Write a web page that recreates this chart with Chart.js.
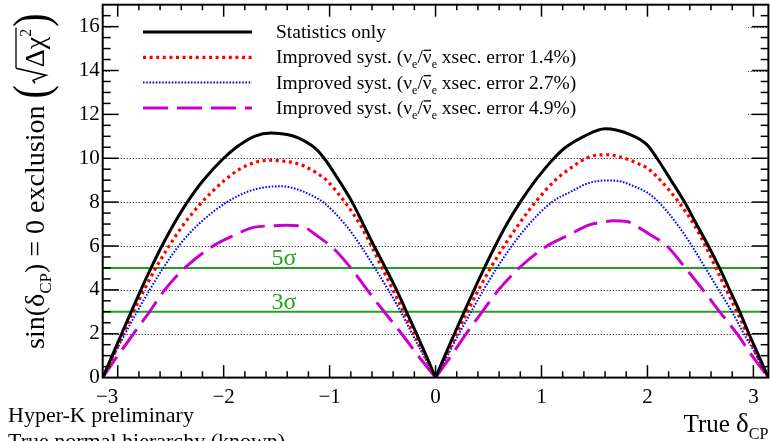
<!DOCTYPE html>
<html>
<head>
<meta charset="utf-8">
<script src="https://cdn.jsdelivr.net/npm/chart.js@4.4.1/dist/chart.umd.min.js"></script>
<style>
  html, body { margin: 0; padding: 0; background: #fff; overflow: hidden; }
  canvas { display: block; }
</style>
</head>
<body>
<canvas id="c" width="770" height="441" style="width:770px;height:441px"></canvas>
<script>
const SERIF = '"Liberation Serif", "DejaVu Serif", serif';

// True delta_CP (rad) and sqrt(delta chi^2) for excluding sin(delta_CP) = 0
const statX = [-3.1416, -3.052, -2.963, -2.873, -2.781, -2.685, -2.583, -2.47, -2.343, -2.192, -2.0, -1.88, -1.71, -1.55, -1.40, -1.297, -1.14, -1.052, -0.913, -0.787, -0.683, -0.58, -0.472, -0.368, -0.274, -0.18, -0.088, 0,
               0.088, 0.178, 0.27, 0.364, 0.461, 0.563, 0.673, 0.799, 0.945, 1.118, 1.228, 1.40, 1.60, 1.838, 1.995, 2.09, 2.222, 2.35, 2.462, 2.575, 2.68, 2.776, 2.871, 2.958, 3.05, 3.1416];
const statY = [0, 1, 2, 3, 4, 5, 6, 7, 8, 9, 10, 10.5, 11, 11.15, 11.08, 10.93, 10.47, 10, 9, 8, 7, 6, 5, 4, 3, 2, 1, 0,
               1, 2, 3, 4, 5, 6, 7, 8, 9, 10, 10.5, 11, 11.34, 11.08, 10.62, 10, 9, 8, 7, 6, 5, 4, 3, 2, 1, 0];

const syst14X = [-3.1416, -3.04, -2.948, -2.852, -2.75, -2.64, -2.515, -2.375, -2.205, -1.99, -1.85, -1.69, -1.55, -1.423, -1.329, -1.234, -1.124, -1.03, -0.856, -0.715, -0.605, -0.505, -0.403, -0.303, -0.203, -0.103, 0,
                 0.102, 0.2, 0.3, 0.405, 0.52, 0.647, 0.787, 0.943, 1.13, 1.26, 1.45, 1.62, 1.743, 1.838, 1.932, 1.995, 2.121, 2.295, 2.436, 2.548, 2.645, 2.744, 2.845, 2.94, 3.034, 3.1416];
const syst14Y = [0, 1, 2, 3, 4, 5, 6, 7, 8, 9, 9.5, 9.83, 9.91, 9.86, 9.79, 9.63, 9.33, 9, 8, 7, 6, 5, 4, 3, 2, 1, 0,
                 1, 2, 3, 4, 5, 6, 7, 8, 9, 9.5, 10.06, 10.16, 10.06, 9.91, 9.71, 9.56, 9, 8, 7, 6, 5, 4, 3, 2, 1, 0];

const syst27X = [-3.1416, -3.038, -2.93, -2.818, -2.698, -2.57, -2.425, -2.235, -1.97, -1.76, -1.60, -1.45, -1.297, -1.14, -1.061, -0.856, -0.705, -0.573, -0.447, -0.328, -0.222, -0.112, 0,
                 0.112, 0.222, 0.336, 0.453, 0.579, 0.72, 0.884, 1.098, 1.287, 1.445, 1.61, 1.76, 1.838, 1.995, 2.106, 2.279, 2.42, 2.546, 2.672, 2.798, 2.91, 3.03, 3.1416];
const syst27Y = [0, 1, 2, 3, 4, 5, 6, 7, 8, 8.5, 8.68, 8.72, 8.57, 8.23, 8, 7, 6, 5, 4, 3, 2, 1, 0,
                 1, 2, 3, 4, 5, 6, 7, 8, 8.5, 8.87, 8.99, 8.93, 8.79, 8.44, 8, 7, 6, 5, 4, 3, 2, 1, 0];

const syst49X = [-3.1416, -3.00, -2.85, -2.70, -2.556, -2.367, -2.10, -1.895, -1.72, -1.52, -1.40, -1.30, -1.22, -1.156, -0.951, -0.80, -0.645, -0.485, -0.32, -0.165, 0,
                 0.148, 0.29, 0.44, 0.595, 0.79, 1.051, 1.256, 1.445, 1.55, 1.68, 1.806, 1.90, 2.027, 2.184, 2.357, 2.524, 2.682, 2.845, 2.987, 3.1416];
const syst49Y = [0, 1, 2, 3, 4, 5, 6, 6.5, 6.85, 6.92, 6.95, 6.92, 6.82, 6.6, 5.83, 5, 4, 3, 2, 1, 0,
                 1, 2, 3, 4, 5, 6, 6.5, 6.95, 7.07, 7.15, 7.12, 6.89, 6.51, 6, 5, 4, 3, 2, 1, 0];

// Significance reference levels
const sigmaLevels = [5, 3];
const sigmaLabels = ['5σ', '3σ'];

// Legend wording
const statLabel = 'Statistics only';
const xsecErrors = ['1.4%', '2.7%', '4.9%'];

const GREEN = '#22a022';

// Both arcs meet at delta_CP = 0; the curve restarts there so the cusp stays sharp.
function toPoints(xs, ys) {
  const pts = [];
  xs.forEach((x, i) => {
    pts.push({ x: x, y: ys[i] });
    if (x === 0) { pts.push({ x: 0, y: null }); pts.push({ x: 0, y: ys[i] }); }
  });
  return pts;
}

const curveStyles = [
  { color: '#000000', width: 3, dash: [] },
  { color: '#ff0000', width: 3.2, dash: [3, 3.6] },
  { color: '#0000ff', width: 2, dash: [1.6, 1.6] },
  { color: '#cc00cc', width: 3, dash: [25, 9] }
];

const curveData = [[statX, statY], [syst14X, syst14Y], [syst27X, syst27Y], [syst49X, syst49Y]];

const datasets = curveData.map((d, i) => ({
  label: i === 0 ? statLabel : 'Improved syst. ' + xsecErrors[i - 1],
  data: toPoints(d[0], d[1]),
  borderColor: curveStyles[i].color,
  borderWidth: curveStyles[i].width,
  borderDash: curveStyles[i].dash,
  borderCapStyle: 'butt',
  cubicInterpolationMode: 'monotone',
  pointRadius: 0,
  spanGaps: false,
  fill: false
}));

sigmaLevels.forEach((lv, i) => {
  datasets.push({
    label: sigmaLabels[i],
    data: [{ x: -Math.PI, y: lv }, { x: Math.PI, y: lv }],
    borderColor: GREEN,
    borderWidth: 2,
    pointRadius: 0,
    fill: false
  });
});

// Draw a sequence of text runs (with sub/superscripts) on one baseline
function runWidth(ctx, runs) {
  let w = 0;
  runs.forEach(r => { ctx.font = r.size + 'px ' + SERIF; w += ctx.measureText(r.t).width + (r.kern || 0); });
  return w;
}
function drawRuns(ctx, x, y, runs) {
  runs.forEach(r => {
    ctx.font = r.size + 'px ' + SERIF;
    const w = ctx.measureText(r.t).width;
    const by = y + (r.dy || 0);
    ctx.fillText(r.t, x, by);
    if (r.bar) {
      ctx.fillRect(x + w * 0.08, by - r.size * r.bar, w * 0.84, Math.max(1.2, r.size * 0.07));
    }
    x += w + (r.kern || 0);
  });
  return x;
}

function legendRuns(err, size) {
  const s = size, sub = Math.round(size * 0.62), d = Math.round(size * 0.28);
  return [
    { t: 'Improved syst. (ν', size: s },
    { t: 'e', size: sub, dy: d },
    { t: '/', size: s },
    { t: 'ν', size: s, bar: 0.7 },
    { t: 'e', size: sub, dy: d },
    { t: ' xsec. error ' + err + ')', size: s }
  ];
}

function hline(ctx, x1, y1, x2, y2) {
  ctx.beginPath(); ctx.moveTo(x1, y1); ctx.lineTo(x2, y2); ctx.stroke();
}

const decor = {
  id: 'decor',
  beforeDatasetsDraw(chart) {
    const { ctx, chartArea: a, scales: { y } } = chart;
    ctx.save();
    // dotted horizontal grid at the labelled values
    ctx.strokeStyle = '#000';
    ctx.lineWidth = 1;
    ctx.setLineDash([1, 2]);
    y.ticks.forEach(t => {
      if (t.value <= y.min) return;
      const py = Math.round(y.getPixelForValue(t.value)) + 0.5;
      hline(ctx, a.left, py, a.right, py);
    });
    ctx.setLineDash([]);

    // legend panel
    const lx0 = 110, lx1 = 748, ly0 = 11, ly1 = 121;
    ctx.fillStyle = '#fff';
    ctx.fillRect(lx0, ly0, lx1 - lx0, ly1 - ly0);
    const rowY0 = 32, rowStep = 25.3, sx0 = 143, sx1 = 252, tx = 276, fs = 19.5;
    curveStyles.forEach((st, i) => {
      const ry = rowY0 + i * rowStep;
      ctx.strokeStyle = st.color;
      ctx.lineWidth = st.width;
      ctx.setLineDash(st.dash);
      ctx.lineCap = 'butt';
      hline(ctx, sx0, ry, sx1, ry);
      ctx.setLineDash([]);
      ctx.fillStyle = '#000';
      ctx.textBaseline = 'alphabetic';
      ctx.textAlign = 'left';
      if (i === 0) drawRuns(ctx, tx, ry + 6, [{ t: statLabel, size: fs }]);
      else drawRuns(ctx, tx, ry + 6, legendRuns(xsecErrors[i - 1], fs));
    });
    ctx.restore();
  },
  afterDatasetsDraw(chart) {
    const { ctx, chartArea: a, scales: { x, y } } = chart;
    ctx.save();
    // significance labels
    ctx.fillStyle = GREEN;
    ctx.textAlign = 'center';
    ctx.textBaseline = 'alphabetic';
    ctx.font = '24px ' + SERIF;
    sigmaLevels.forEach((lv, i) => {
      ctx.fillText(sigmaLabels[i], x.getPixelForValue(-1.43), y.getPixelForValue(lv) - 3);
    });

    // frame and inward tick marks on all four sides
    ctx.strokeStyle = '#000';
    ctx.lineWidth = 1.5;
    const xs = x.ticks.map(t => t.value);
    const xStep = xs[1] - xs[0], xMinor = xStep / 5;
    for (let k = Math.ceil(x.min / xMinor - 1e-6); k * xMinor <= x.max + 1e-9; k++) {
      const v = k * xMinor;
      const major = Math.abs(v / xStep - Math.round(v / xStep)) < 1e-6;
      const px = x.getPixelForValue(v);
      hline(ctx, px, a.bottom, px, a.bottom - (major ? 12.5 : 6.3));
      hline(ctx, px, a.top, px, a.top + (major ? 12 : 5.5));
    }
    const ys = y.ticks.map(t => t.value);
    const yStep = ys[1] - ys[0], yMinor = yStep / 4;
    for (let k = 1; k * yMinor < y.max - 1e-6; k++) {
      const v = k * yMinor;
      const major = Math.abs(v / yStep - Math.round(v / yStep)) < 1e-6;
      const py = y.getPixelForValue(v);
      hline(ctx, a.left, py, a.left + (major ? 16 : 8), py);
      hline(ctx, a.right, py, a.right - (major ? 16.5 : 7.7), py);
    }
    ctx.lineWidth = 2;
    ctx.strokeRect(a.left, a.top, a.right - a.left, a.bottom - a.top);
    ctx.restore();
  },
  afterDraw(chart) {
    const { ctx, chartArea: a } = chart;
    ctx.save();
    ctx.fillStyle = '#000';
    ctx.strokeStyle = '#000';
    ctx.textBaseline = 'alphabetic';
    ctx.textAlign = 'left';

    // x-axis title, right aligned
    const xt = [
      { t: 'True ', size: 25 },
      { t: 'δ', size: 27 },
      { t: 'CP', size: 16, dy: 7 }
    ];
    const xw = runWidth(ctx, xt);
    drawRuns(ctx, a.right - xw, 431.5, xt);

    // experiment notes
    ctx.font = '22px ' + SERIF;
    ctx.fillText('Hyper-K preliminary', 8, 421.5);
    ctx.fillText('True normal hierarchy (known)', 8, 448);

    // y-axis title, rotated
    ctx.translate(44, 349);
    ctx.rotate(-Math.PI / 2);
    const fs = 28;
    let cx = drawRuns(ctx, 0, 0, [
      { t: 'sin(', size: fs },
      { t: 'δ', size: fs },
      { t: 'CP', size: 17, dy: 7 },
      { t: ') = 0 exclusion ', size: fs }
    ]);
    // large parentheses around sqrt(delta chi^2)
    ctx.save();
    ctx.translate(cx, 4);
    ctx.scale(1, 1.25);
    ctx.font = '40px ' + SERIF;
    ctx.fillText('(', 0, 0);
    const pw = ctx.measureText('(').width;
    ctx.restore();
    cx += pw + 2;
    // radical sign
    ctx.lineWidth = 1.6;
    ctx.beginPath();
    ctx.moveTo(cx, -9);
    ctx.lineTo(cx + 3, -11);
    ctx.lineTo(cx + 8, 2);
    ctx.lineTo(cx + 15, -28);
    ctx.stroke();
    const bodyX = cx + 16;
    const body = [
      { t: 'Δχ', size: fs },
      { t: '2', size: 16, dy: -13 }
    ];
    const bw = runWidth(ctx, body);
    ctx.lineWidth = 1.3;
    hline(ctx, cx + 15, -28, bodyX + bw + 1, -28);
    cx = drawRuns(ctx, bodyX, 0, body) + 2;
    ctx.save();
    ctx.translate(cx, 4);
    ctx.scale(1, 1.25);
    ctx.font = '40px ' + SERIF;
    ctx.fillText(')', 0, 0);
    ctx.restore();
    ctx.restore();
  }
};

const tickFont = { family: SERIF, size: 21 };
const minusSign = v => String(v).replace('-', '\u2212');

new Chart(document.getElementById('c'), {
  type: 'line',
  data: { datasets: datasets },
  plugins: [decor],
  options: {
    responsive: false,
    animation: false,
    devicePixelRatio: 1,
    layout: { padding: { top: 4.7, right: 1.6, left: 0, bottom: 0 } },
    plugins: { legend: { display: false }, tooltip: { enabled: false } },
    elements: { line: { tension: 0 } },
    scales: {
      x: {
        type: 'linear',
        min: -Math.PI,
        max: Math.PI,
        grid: { display: false, drawTicks: false },
        border: { display: false },
        ticks: {
          stepSize: 1,
          includeBounds: false,
          autoSkip: false,
          maxRotation: 0,
          padding: 7,
          color: '#000',
          font: tickFont,
          // the leftmost label sits with its digit under the tick
          callback: v => v === -3 ? minusSign(v) + '\u2002\u2002' : minusSign(v)
        },
        afterFit: s => { s.height = 441 - 377.6; s.paddingLeft = 0; s.paddingRight = 0; }
      },
      y: {
        type: 'linear',
        min: 0,
        max: 17,
        grid: { display: false, drawTicks: false },
        border: { display: false },
        ticks: {
          stepSize: 2,
          includeBounds: false,
          autoSkip: false,
          padding: 3,
          color: '#000',
          font: tickFont,
          callback: v => minusSign(v)
        },
        afterFit: s => { s.width = 102.7; s.paddingTop = 0; s.paddingBottom = 0; }
      }
    }
  }
});
</script>
</body>
</html>
